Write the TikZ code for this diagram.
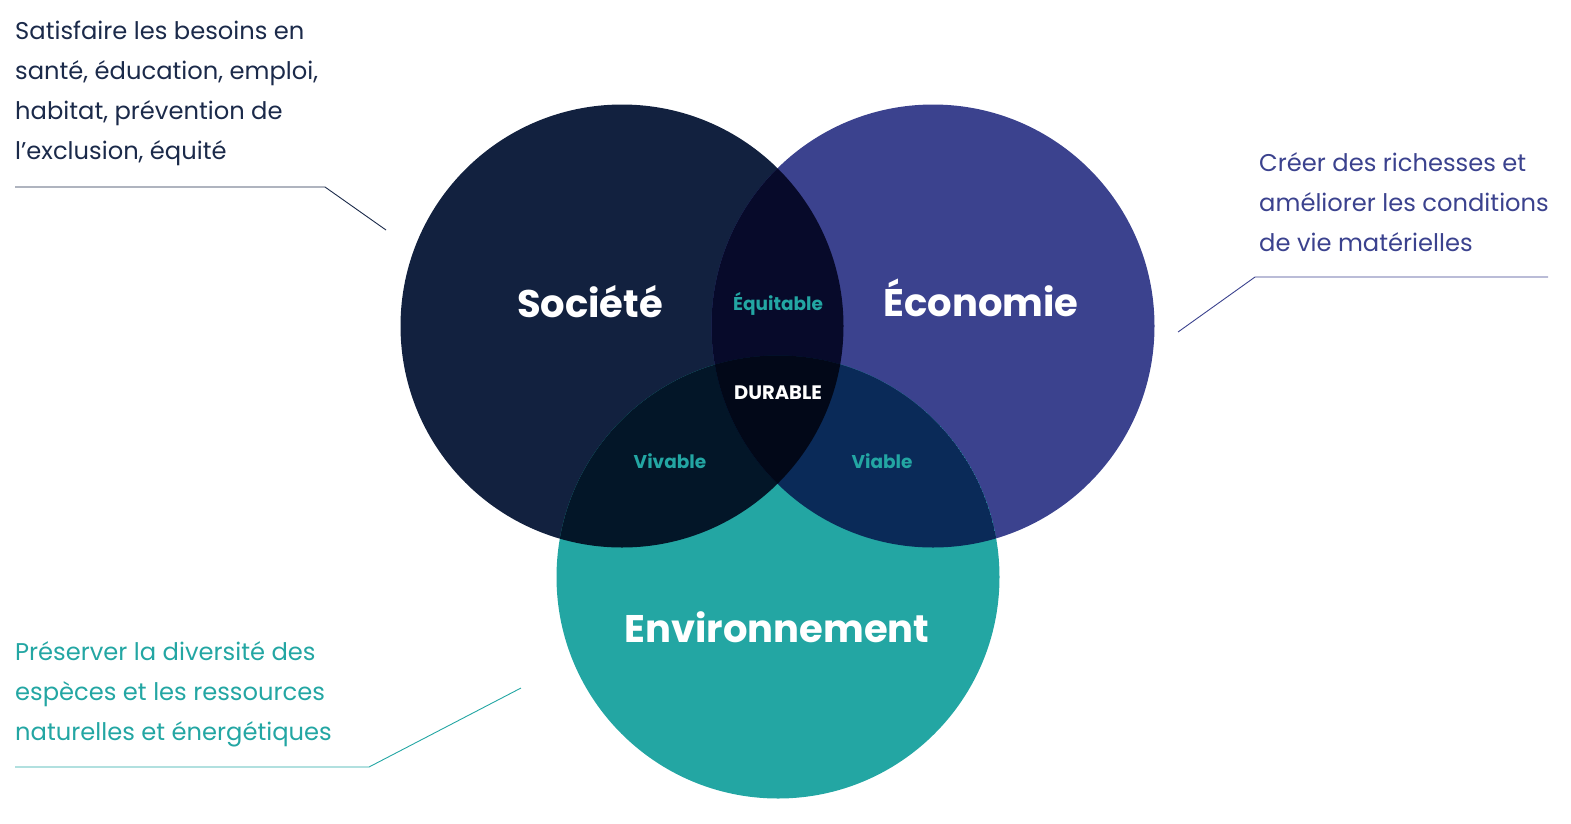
\documentclass[tikz,border=0pt]{standalone}
\usepackage{fontspec}
\setmainfont{Poppins}
\usepackage{xcolor}
\usepackage{tikz}
\usetikzlibrary{positioning}
\definecolor{societe}{HTML}{12213F}
\definecolor{economie}{HTML}{3B428E}
\definecolor{environ}{HTML}{23A6A3}
\definecolor{socEco}{HTML}{070A2A}
\definecolor{socEnv}{HTML}{031628}
\definecolor{ecoEnv}{HTML}{0A2A58}
\definecolor{durable}{HTML}{020818}
\definecolor{socText}{HTML}{1B2A4A}

\begin{document}
\begin{tikzpicture}[
    x=1pt, y=-1pt,
    pillar/.style={circle, minimum size=443pt, inner sep=0pt},
    title/.style={font=\fontsize{38.5}{44}\selectfont\bfseries, text=white},
    joint/.style={font=\fontsize{18.5}{20}\selectfont\bfseries, text=environ},
    desc/.style={font=\fontsize{24.2}{40}\selectfont, align=left, anchor=north west, inner sep=0pt},
    leader/.style={line width=0.9pt}
]
\useasboundingbox (0,0) rectangle (1571,823);

% the three pillars
\node (soc) [pillar, fill=societe] at (622,326) {};
\node (eco) [pillar, fill=economie] at (933,326) {};
\node (env) [pillar, fill=environ] at (778,577) {};

% overlaps
\begin{scope}
  \clip (soc.center) circle (221.5);
  \fill[socEco] (eco.center) circle (221.5);
  \fill[socEnv] (env.center) circle (221.5);
  \clip (eco.center) circle (221.5);
  \fill[durable] (env.center) circle (221.5);
\end{scope}
\begin{scope}
  \clip (eco.center) circle (221.5);
  \clip (env.center) circle (221.5);
  \fill[ecoEnv] (env.center) circle (221.5);
  \clip (soc.center) circle (221.5);
  \fill[durable] (env.center) circle (221.5);
\end{scope}

% labels
\node (socLbl) [title] at (590,302) {Société};
\node (ecoLbl) [title] at (981,298) {Économie};
\node (envLbl) [title] at (777,627) {Environnement};
\node (equi) [joint] at (778,304) {Équitable};
\node (dura) [joint, text=white, font=\fontsize{19.5}{20}\selectfont\bfseries] at (778,393) {DURABLE};
\node (viva) [joint] at (670,461) {Vivable};
\node (viab) [joint] at (882,461) {Viable};

% descriptions
\node (socDesc) [desc, text=socText] at (15,21) {Satisfaire les besoins en\\santé, éducation, emploi,\\habitat, prévention de\\l’exclusion, équité};
\node (ecoDesc) [desc, text=economie] at (1259,152) {Créer des richesses et\\améliorer les conditions\\de vie matérielles};
\node (envDesc) [desc, text=environ] at (15,641) {Préserver la diversité des\\espèces et les ressources\\naturelles et énergétiques};

% leader lines
\coordinate (socEnd) at (386,230);
\coordinate (ecoEnd) at (1178,332);
\coordinate (envEnd) at (521,688);
\draw[leader, socText] (15,187) -- (325,187) -- (socEnd);
\draw[leader, economie] (1548,277) -- (1255,277) -- (ecoEnd);
\draw[leader, environ] (15,767) -- (369,767) -- (envEnd);
\end{tikzpicture}
\end{document}
